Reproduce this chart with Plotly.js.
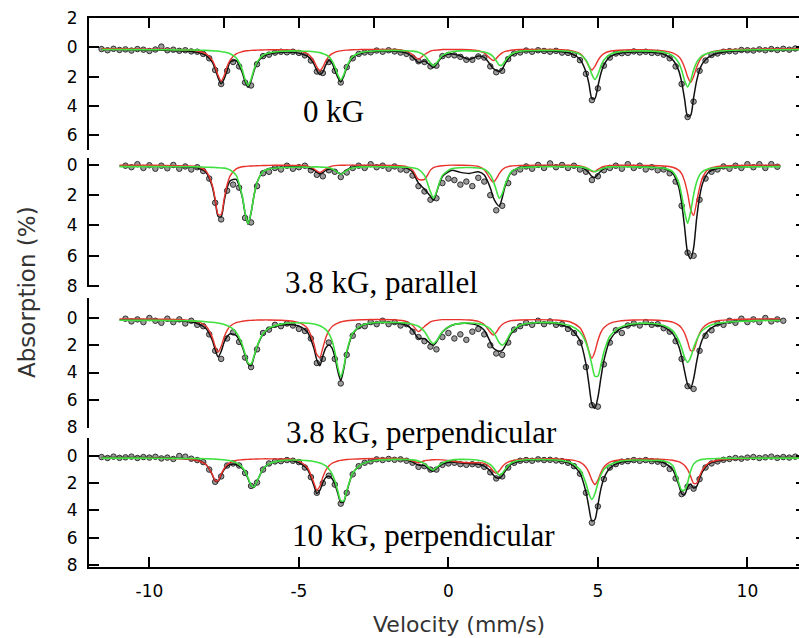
<!DOCTYPE html>
<html>
<head>
<meta charset="utf-8">
<script src="https://cdn.plot.ly/plotly-3.0.1.min.js"></script>
<style>
html,body{margin:0;padding:0;overflow:hidden;background:#fff;}
#chart{width:808px;height:638px;}
</style>
</head>
<body>
<div id="chart"></div>
<script>
// ---- data (absorption %) ----
const velocityFit = [-11.6,-11.0,-10.2,-9.5,-8.8,-8.4,-8.1,-7.9,-7.8,-7.7,
-7.6,-7.5,-7.4,-7.3,-7.1,-6.9,-6.8,-6.7,-6.6,-6.5,
-6.4,-6.2,-6.0,-5.6,-5.2,-4.9,-4.7,-4.5,-4.4,-4.3,
-4.2,-4.1,-4.0,-3.9,-3.8,-3.7,-3.6,-3.5,-3.4,-3.2,
-2.9,-2.4,-1.8,-1.4,-1.2,-1.0,-0.8,-0.6,-0.5,-0.4,
-0.2,0.1,0.4,0.7,1.0,1.2,1.4,1.5,1.6,1.7,
1.8,1.9,2.1,2.4,3.0,3.6,4.1,4.4,4.6,4.7,
4.8,4.9,5.0,5.1,5.2,5.4,5.7,6.2,6.8,7.2,
7.5,7.7,7.8,7.9,8.0,8.1,8.2,8.3,8.4,8.5,
8.7,9.0,9.6,10.4,11.1,11.8];

const velocityData = [-11.6,-11.4,-11.2,-11.0,-10.8,-10.6,-10.4,-10.2,-10.0,-9.8,
-9.6,-9.4,-9.2,-9.0,-8.8,-8.6,-8.4,-8.2,-8.0,-7.8,
-7.6,-7.4,-7.2,-7.0,-6.8,-6.6,-6.4,-6.2,-6.0,-5.8,
-5.6,-5.4,-5.2,-5.0,-4.8,-4.6,-4.4,-4.2,-4.0,-3.8,
-3.6,-3.4,-3.2,-3.0,-2.8,-2.6,-2.4,-2.2,-2.0,-1.8,
-1.6,-1.4,-1.2,-1.0,-0.8,-0.6,-0.4,-0.2,0.0,0.2,
0.4,0.6,0.8,1.0,1.2,1.4,1.6,1.8,2.0,2.2,
2.4,2.6,2.8,3.0,3.2,3.4,3.6,3.8,4.0,4.2,
4.4,4.6,4.8,5.0,5.2,5.4,5.6,5.8,6.0,6.2,
6.4,6.6,6.8,7.0,7.2,7.4,7.6,7.8,8.0,8.2,
8.4,8.6,8.8,9.0,9.2,9.4,9.6,9.8,10.0,10.2,
10.4,10.6,10.8,11.0,11.2,11.4,11.6];

// Panel 1: 0 kG
const p1Data = [.12,.2,.1,.18,.14,.22,.12,.16,.25,.15,
-.05,.2,.16,.24,.2,.28,.3,.45,.75,1.55,
2.5,1.6,1.0,1.3,2.4,2.6,1.15,.6,.5,.36,
.3,.34,.3,.38,.55,.9,1.65,1.75,1.0,1.6,
2.4,1.35,.75,.45,.35,.34,.22,.3,.2,.28,
.36,.45,.7,.95,1.0,1.3,1.25,.6,.52,.55,
.65,.85,.85,.62,.7,1.3,1.7,1.6,.8,.42,
.35,.22,.3,.2,.25,.3,.24,.36,.38,.52,
.88,1.8,3.6,2.8,1.25,.7,.42,.4,.38,.28,
.35,.3,.38,.38,.5,.75,1.3,2.5,4.75,3.7,
1.6,.9,.52,.42,.3,.26,.28,.18,.2,.22,
.14,.2,.12,.18,.1,.16,.08];
const p1Total = [.15,.15,.18,.2,.25,.34,.56,1.0,1.46,2.09,
2.49,2.15,1.58,1.0,.9,1.7,2.33,2.73,2.29,1.6,
1.1,.62,.46,.34,.34,.45,.62,1.13,1.58,1.86,
1.68,1.2,.9,1.05,1.54,2.05,2.36,1.98,1.39,.71,
.39,.27,.26,.39,.65,1.04,.94,1.23,1.37,1.16,
.64,.44,.59,.83,.59,.69,1.18,1.44,1.57,1.65,
1.49,1.09,.57,.31,.25,.27,.42,.81,1.67,2.48,
3.5,3.5,2.65,1.79,1.2,.65,.41,.32,.34,.47,
.84,1.57,2.35,3.54,4.7,4.65,3.45,2.31,1.54,1.09,
.66,.4,.25,.19,.17,.15];
const p1Red = [.1,.1,.12,.13,.17,.25,.45,.87,1.31,1.93,
2.3,1.93,1.31,.87,.45,.3,.25,.23,.21,.2,
.19,.18,.17,.17,.2,.29,.45,.93,1.35,1.6,
1.35,.93,.63,.45,.34,.28,.24,.21,.19,.17,
.15,.14,.15,.26,.49,.8,.49,.26,.21,.19,
.15,.15,.15,.16,.23,.38,.76,.9,.76,.54,
.38,.28,.2,.15,.14,.15,.23,.43,.9,1.3,
1.55,1.3,.9,.61,.43,.27,.2,.17,.18,.24,
.38,.63,.9,1.37,2.0,2.4,2.0,1.37,.9,.63,
.38,.23,.15,.12,.11,.1];
const p1Green = [.15,.15,.16,.17,.18,.19,.21,.23,.25,.26,
.29,.32,.37,.44,.71,1.5,2.18,2.6,2.18,1.5,
1.01,.54,.39,.27,.24,.26,.27,.3,.33,.36,
.43,.51,.64,.89,1.3,1.87,2.22,1.87,1.3,.64,
.34,.23,.21,.23,.26,.34,.55,1.07,1.26,1.07,
.55,.3,.24,.24,.27,.32,.47,.64,.91,1.21,
1.21,.91,.47,.26,.21,.22,.29,.48,.87,1.28,
1.85,2.2,1.85,1.28,.87,.48,.31,.25,.26,.33,
.56,1.04,1.55,2.27,2.7,2.27,1.55,1.04,.74,.56,
.38,.27,.2,.17,.16,.15];

// Panel 2: 3.8 kG, parallel
const p2Data = [null,null,null,null,.05,.15,-.05,.2,.02,.25,
.05,.22,.0,.25,.1,.3,.15,.4,.9,2.5,
3.6,1.7,1.3,1.5,3.5,3.8,1.4,.55,.45,.2,
.3,.05,.25,.15,.05,.35,.65,.75,.35,.45,
.8,.5,.2,.05,.2,-.05,.15,.05,.25,.1,
.3,.35,.7,1.4,1.75,2.3,2.2,1.2,.9,1.0,
1.3,1.1,1.4,.85,1.1,2.0,3.0,2.7,1.2,.5,
.3,.1,.25,.0,.2,-.1,.15,.0,.2,.05,
.3,.45,1.0,.75,.35,.2,.05,.25,-.05,.2,
.05,.3,.15,.35,.3,.55,1.1,2.7,5.8,6.0,
2.3,.9,.45,.3,.1,.25,.05,.2,-.05,.15,
-.05,.2,-.05,.12,null,null,null];
const p2Total = [null,.07,.08,.09,.13,.18,.51,1.42,2.36,3.41,
3.43,2.4,1.51,1.05,.95,2.07,3.19,3.93,3.16,2.01,
1.16,.43,.24,.15,.13,.12,.18,.33,.48,.59,
.5,.36,.28,.27,.36,.49,.58,.48,.32,.15,
.09,.08,.11,.21,.47,1.2,1.6,2.07,2.33,1.84,
.76,.36,.49,.56,.45,.67,1.51,2.15,2.52,2.73,
2.17,1.4,.48,.17,.08,.07,.08,.14,.32,.52,
.76,.83,.62,.4,.25,.11,.08,.1,.15,.23,
.54,1.44,2.5,4.12,5.8,6.2,5.5,3.58,2.12,1.23,
.48,.23,.12,.09,.07,null];
const p2Red = [null,.01,.02,.03,.06,.1,.41,1.31,2.24,3.28,
3.28,2.24,1.31,.72,.26,.12,.1,.08,.07,.06,
.05,.04,.03,.02,.03,.03,.08,.25,.4,.5,
.4,.25,.14,.075,.045,.03,.02,.02,.01,.01,
.01,.01,.03,.11,.34,.96,.96,.34,.18,.11,
.05,.01,.02,.03,.1,.32,.92,1.15,.92,.58,
.32,.17,.07,.03,.01,.01,.02,.06,.17,.29,
.43,.43,.29,.17,.1,.03,.01,.02,.04,.07,
.15,.34,.57,1.07,1.88,2.91,3.33,2.48,1.51,.84,
.28,.1,.03,.015,.01,null];
const p2Green = [null,.11,.11,.11,.12,.13,.15,.16,.17,.18,
.2,.21,.25,.33,.67,2.0,3.14,3.9,3.14,2.0,
1.16,.44,.26,.18,.15,.14,.15,.13,.13,.14,
.15,.16,.19,.25,.36,.51,.61,.51,.36,.19,
.13,.12,.13,.15,.18,.29,.69,1.78,2.2,1.78,
.69,.25,.18,.17,.2,.29,.64,1.05,1.65,2.2,
1.9,1.28,.46,.19,.12,.11,.11,.13,.2,.28,
.38,.45,.38,.28,.2,.13,.12,.13,.16,.21,
.44,1.15,1.98,3.1,3.85,3.1,1.98,1.15,.66,.44,
.25,.18,.14,.12,.11,null];

// Panel 3: 3.8 kG, perpendicular
const p3Data = [null,null,null,null,.05,.25,.1,.3,.0,.2,
.35,.05,.3,.1,.4,.2,.5,.6,1.2,2.4,
3.0,1.5,1.05,1.75,2.9,3.6,2.3,1.1,.85,.5,
.6,.4,.55,.8,.95,1.5,3.3,3.0,1.8,3.0,
4.8,2.7,1.3,.6,.6,.3,.45,.2,.45,.3,
.55,.45,1.0,1.4,1.7,2.1,2.3,1.4,1.1,1.5,
1.2,1.6,1.0,.8,1.2,2.0,2.6,2.7,1.8,.85,
.6,.35,.5,.2,.45,.25,.5,.45,.8,1.1,
1.8,3.6,6.4,6.5,3.4,1.8,.9,1.1,.55,.4,
.55,.3,.5,.45,.75,1.0,1.7,3.0,5.0,5.2,
2.4,1.3,.9,.4,.5,.2,.35,.05,.3,.1,
.3,.0,.25,.1,.2,null,null];
const p3Total = [null,.12,.14,.17,.24,.4,.78,1.61,2.31,2.85,
2.45,1.77,1.36,1.16,1.28,2.06,2.74,3.38,3.5,2.85,
2.11,1.19,.78,.51,.49,.68,1.08,2.21,3.08,3.5,
2.79,2.19,1.98,2.17,2.83,3.88,4.6,3.74,2.54,1.16,
.57,.34,.36,.53,.88,1.5,1.51,1.89,1.99,1.76,
1.03,.55,.41,.41,.56,.9,1.75,2.2,2.35,2.43,
2.37,2.04,1.13,.57,.35,.42,.8,1.65,3.36,4.86,
6.3,6.62,5.82,4.4,3.13,1.64,.85,.47,.45,.65,
1.13,2.05,2.84,3.92,4.86,5.18,4.47,3.24,2.2,1.54,
.89,.49,.25,.16,.14,null];
const p3Red = [null,.06,.07,.09,.14,.27,.61,1.4,2.08,2.5,
2.08,1.4,.91,.61,.34,.24,.21,.18,.17,.16,
.15,.14,.14,.16,.24,.43,.8,1.87,2.69,2.89,
2.2,1.44,.95,.65,.48,.37,.29,.24,.2,.16,
.13,.11,.13,.26,.53,1.0,.62,.29,.21,.17,
.12,.12,.12,.15,.25,.47,1.05,1.25,1.05,.71,
.47,.33,.19,.14,.12,.15,.31,.72,1.65,2.45,
2.95,2.45,1.65,1.05,.72,.4,.23,.15,.15,.2,
.3,.52,.74,1.12,1.72,2.38,2.38,1.72,1.12,.74,
.39,.2,.1,.07,.06,null];
const p3Green = [null,.16,.17,.18,.2,.23,.27,.31,.33,.37,
.41,.47,.55,.65,1.04,1.92,2.63,3.3,3.38,2.79,
2.06,1.15,.74,.45,.35,.35,.38,.44,.49,.57,
.69,.85,1.13,1.62,2.45,3.61,4.32,3.6,2.44,1.1,
.54,.33,.33,.37,.45,.6,.99,1.7,1.88,1.69,
1.01,.53,.39,.36,.41,.53,.8,1.05,1.4,1.82,
2.0,1.81,1.04,.53,.33,.37,.59,1.03,1.81,2.51,
3.45,4.27,4.27,3.45,2.51,1.34,.72,.42,.4,.55,
.93,1.63,2.2,2.9,3.24,2.9,2.19,1.62,1.18,.9,
.6,.39,.25,.19,.18,null];

// Panel 4: 10 kG, perpendicular
const p4Data = [.08,.15,.05,.14,.1,.05,.15,.08,.12,.06,
.18,.12,.22,.0,.05,.2,.3,.45,1.0,1.9,
1.5,.7,.55,.7,1.25,2.2,1.95,1.0,.55,.4,
.38,.3,.35,.45,.85,1.55,2.7,2.0,1.45,2.1,
3.5,2.7,1.35,.75,.5,.4,.25,.3,.22,.28,
.25,.35,.5,.8,.75,1.0,1.0,.65,.55,.5,
.6,.65,.6,.65,.8,1.2,1.65,1.5,.85,.5,
.35,.3,.35,.25,.3,.28,.33,.38,.5,.75,
1.3,2.7,4.9,3.7,1.7,.85,.6,.42,.38,.3,
.36,.3,.38,.42,.6,.95,1.65,2.8,2.25,2.4,
1.7,.85,.55,.4,.28,.22,.15,.2,.12,.08,
.15,.1,.05,.14,.08,.12,.05];
const p4Total = [.12,.12,.12,.15,.2,.32,.64,1.36,1.84,1.86,
1.4,1.0,.75,.63,.62,.9,1.2,1.66,2.19,2.3,
1.87,.97,.59,.36,.35,.61,1.04,2.16,2.75,2.53,
1.96,1.58,1.49,1.63,2.05,2.73,3.41,3.38,2.62,1.3,
.6,.3,.24,.3,.44,.67,.71,1.05,1.11,.93,
.6,.45,.51,.56,.6,.74,1.1,1.4,1.6,1.62,
1.45,1.1,.6,.37,.28,.31,.58,1.26,2.64,3.79,
4.77,4.67,3.58,2.42,1.63,.9,.5,.33,.35,.5,
1.0,2.1,2.75,2.85,2.3,2.05,2.35,2.25,1.65,1.15,
.6,.37,.2,.14,.12,.11];
const p4Red = [.16,.16,.16,.18,.22,.33,.64,1.34,1.81,1.81,
1.34,.92,.64,.48,.33,.28,.26,.25,.24,.23,
.22,.21,.21,.22,.25,.5,.9,1.96,2.5,2.22,
1.56,1.05,.74,.55,.45,.37,.32,.29,.26,.23,
.2,.19,.19,.24,.35,.5,.35,.3,.28,.27,
.29,.35,.46,.5,.49,.54,.84,1.11,1.28,1.09,
.79,.57,.36,.25,.22,.21,.29,.46,.83,1.22,
1.77,2.1,1.77,1.22,.83,.46,.3,.23,.22,.25,
.31,.42,.52,.7,1.01,1.48,2.0,2.0,1.48,1.01,
.52,.31,.2,.17,.16,.15];
const p4Green = [.16,.16,.16,.17,.18,.19,.2,.22,.23,.25,
.26,.28,.31,.35,.49,.82,1.14,1.61,2.15,2.27,
1.85,.96,.58,.34,.3,.31,.34,.4,.45,.51,
.6,.73,.95,1.28,1.8,2.56,3.29,3.29,2.56,1.27,
.6,.31,.25,.26,.29,.37,.56,.95,1.03,.86,
.51,.3,.25,.26,.31,.4,.64,.85,1.16,1.4,
1.28,.97,.52,.32,.26,.3,.49,1.0,2.01,2.77,
3.2,2.77,2.01,1.4,1.0,.64,.4,.3,.33,.35,
.7,1.95,2.5,2.5,1.95,1.1,.6,.4,.3,.25,
.2,.18,.17,.16,.16,.16];

// ---- axis ticks & labels ----
const xTickVals = [-10,-5,0,5,10];
const xTickText = ['-10','-5','0','5','10'];
const topTickVals = [-10,-7.5,-5,-2.5,0,2.5,5,7.5,10];
const y1TickVals = [-2,0,2,4,6];
const y1TickText = ['2','0','2','4','6'];
const yTickVals = [0,2,4,6,8];
const yTickText = ['0','2','4','6','8'];
const panelLabels = ['0 kG','3.8 kG, parallel','3.8 kG, perpendicular','10 kG, perpendicular'];

const panels = [
  {data:p1Data,total:p1Total,red:p1Red,green:p1Green,ax:'y'},
  {data:p2Data,total:p2Total,red:p2Red,green:p2Green,ax:'y2'},
  {data:p3Data,total:p3Total,red:p3Red,green:p3Green,ax:'y3'},
  {data:p4Data,total:p4Total,red:p4Red,green:p4Green,ax:'y4'}
];

const traces = [];
panels.forEach(p => {
  traces.push({x:velocityData,y:p.data,xaxis:'x',yaxis:p.ax,type:'scatter',mode:'markers',
    marker:{symbol:'circle',size:5.5,color:'#9c9c9c',line:{color:'#2e2e2e',width:1}},
    hoverinfo:'skip',showlegend:false});
  traces.push({x:velocityFit,y:p.total,xaxis:'x',yaxis:p.ax,type:'scatter',mode:'lines',
    line:{color:'#111',width:1.5,shape:'spline',smoothing:0.7},hoverinfo:'skip',showlegend:false});
  traces.push({x:velocityFit,y:p.red,xaxis:'x',yaxis:p.ax,type:'scatter',mode:'lines',
    line:{color:'#e8322c',width:1.4,shape:'spline',smoothing:0.7},hoverinfo:'skip',showlegend:false});
  traces.push({x:velocityFit,y:p.green,xaxis:'x',yaxis:p.ax,type:'scatter',mode:'lines',
    line:{color:'#3fe03f',width:1.6,shape:'spline',smoothing:0.7},hoverinfo:'skip',showlegend:false});
});
traces.push({x:[null],y:[null],xaxis:'x2',yaxis:'y',type:'scatter',mode:'lines',hoverinfo:'skip',showlegend:false});

const xr = [-12.02, 11.96];
const tickFont = {family:'DejaVu Sans, Arial, sans-serif',size:17,color:'#000'};
function yAxis(domain, range, vals, text){
  return {domain:domain,range:range,anchor:'x',showline:true,linecolor:'#000',linewidth:2,
    ticks:'inside',ticklen:10,tickwidth:2,tickcolor:'#000',mirror:'ticks',
    tickvals:vals,ticktext:text,showgrid:false,zeroline:false,tickfont:tickFont,ticklabelstandoff:6};
}
const serif = {family:'Liberation Serif, Times New Roman, serif',size:31,color:'#000'};
const layout = {
  width:808,height:638,margin:{l:89,r:2,t:18,b:71},
  paper_bgcolor:'#fff',plot_bgcolor:'#fff',showlegend:false,
  xaxis:{domain:[0,1],range:xr,anchor:'y4',showline:true,linecolor:'#000',linewidth:2,
    ticks:'inside',ticklen:10,tickwidth:2,tickcolor:'#000',tickvals:xTickVals,ticktext:xTickText,
    showgrid:false,zeroline:false,tickfont:tickFont,ticklabelstandoff:8},
  xaxis2:{overlaying:'x',side:'top',anchor:'y',range:xr,showline:true,linecolor:'#000',linewidth:2,
    ticks:'inside',ticklen:10,tickwidth:2,tickcolor:'#000',tickvals:topTickVals,showticklabels:false,
    showgrid:false,zeroline:false},
  yaxis:yAxis([0.7596,1],[7,-2],y1TickVals,y1TickText),
  yaxis2:yAxis([0.510,0.745],[8.07,-0.46],yTickVals,yTickText),
  yaxis3:yAxis([0.2532,0.490],[8.07,-1.47],yTickVals,yTickText),
  yaxis4:yAxis([0,0.235],[8.15,-1.32],yTickVals,yTickText),
  annotations:[
    {text:panelLabels[0],xref:'paper',yref:'paper',x:0.3417,y:0.8288,xanchor:'center',yanchor:'middle',showarrow:false,font:serif},
    {text:panelLabels[1],xref:'paper',yref:'paper',x:0.408,y:0.519,xanchor:'center',yanchor:'middle',showarrow:false,font:serif},
    {text:panelLabels[2],xref:'paper',yref:'paper',x:0.4637,y:0.2459,xanchor:'center',yanchor:'middle',showarrow:false,font:serif},
    {text:panelLabels[3],xref:'paper',yref:'paper',x:0.4665,y:0.0565,xanchor:'center',yanchor:'middle',showarrow:false,font:serif},
    {text:'Absorption (%)',xref:'paper',yref:'paper',x:-0.0865,y:0.5009,xanchor:'center',yanchor:'middle',
      textangle:-90,showarrow:false,font:{family:'DejaVu Sans, Arial, sans-serif',size:23,color:'#333'}},
    {text:'Velocity (mm/s)',xref:'paper',yref:'paper',x:0.5167,y:-0.1056,xanchor:'center',yanchor:'middle',
      showarrow:false,font:{family:'DejaVu Sans, Arial, sans-serif',size:22,color:'#333'}}
  ]
};
Plotly.newPlot('chart',traces,layout,{displayModeBar:false,staticPlot:true});
</script>
</body>
</html>
